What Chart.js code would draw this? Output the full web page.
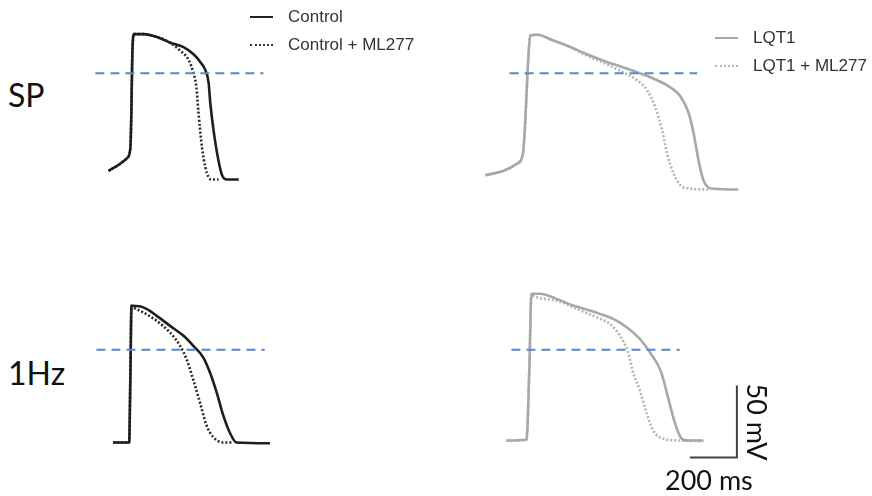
<!DOCTYPE html>
<html>
<head>
<meta charset="utf-8">
<script src="https://cdn.jsdelivr.net/npm/chart.js@4.4.1/dist/chart.umd.min.js"></script>
<style>
  body { margin: 0; width: 872px; height: 496px; background: #fff; position: relative; overflow: hidden; }
  .panel { position: absolute; }
  .lbl { position: absolute; font-family: Lato, "Open Sans", sans-serif; color: #111; line-height: 1; white-space: nowrap; }
  .leg { position: absolute; height: 20px; display: flex; align-items: center; font-family: "Liberation Sans", Arial, sans-serif; font-size: 17px; color: #333; white-space: nowrap; }
  .leg span.ln { display: inline-block; width: 23px; margin-right: 15px; }
</style>
</head>
<body>
<div class="panel" style="left:88.7px; top:13.5px;"><canvas id="spCtrl" width="264" height="190"></canvas></div>
<div class="panel" style="left:482.7px; top:23.5px;"><canvas id="spLqt" width="264" height="190"></canvas></div>
<div class="panel" style="left:88.2px; top:276.5px;"><canvas id="hzCtrl" width="264" height="190"></canvas></div>
<div class="panel" style="left:487.2px; top:274.5px;"><canvas id="hzLqt" width="264" height="190"></canvas></div>

<div class="lbl" style="left:8px; top:79px; font-size:32px;">SP</div>
<div class="lbl" style="left:8px; top:357px; font-size:32px;">1Hz</div>
<div class="lbl" style="left:665px; top:466px; font-size:27px;">200 ms</div>
<div class="lbl" style="left:757px; top:422px; font-size:27px; transform: translate(-50%,-50%) rotate(90deg);">50 mV</div>

<div class="leg" style="left:250px; top:7px;"><span class="ln" style="border-top:2.5px solid #222;"></span>Control</div>
<div class="leg" style="left:250px; top:35px;"><span class="ln" style="border-top:2.5px dotted #333;"></span>Control + ML277</div>
<div class="leg" style="left:715px; top:28px;"><span class="ln" style="border-top:2.5px solid #a8a8a8;"></span>LQT1</div>
<div class="leg" style="left:715px; top:56px;"><span class="ln" style="border-top:2.5px dotted #b4b4b4;"></span>LQT1 + ML277</div>

<script>
// action potentials, [time ms, voltage mV]
const spControl = [[-97,-79],[-47,-74],[-17,-70],[-4,-63],[0,-40],[4,0],[10,16],[52,16],[109,14],[166,10],[222,7],[265,2],[294,-3.5],[315,-9],[329,-18],[336,-32],[350,-51],[371,-72],[386,-82],[407,-85],[457,-85]];
const spControlMl = [[-97,-79],[-47,-74],[-17,-70],[-4,-63],[0,-40],[4,0],[10,16],[52,16],[109,14],[166,10],[208,4.5],[244,-2],[265,-11.5],[277,-21],[286,-39],[301,-63],[315,-76.5],[329,-83.5],[343,-85],[371,-85]];
const spLqt1 = [[-170,-75],[-92,-72],[-35,-67],[-10,-60],[0,-37],[10,-2],[21,22],[50,22.5],[120,18.5],[191,14],[262,9],[333,4.5],[404,0.5],[475,-3.5],[546,-8],[617,-14],[659,-20],[695,-32],[716,-46],[737,-65],[759,-79],[801,-84.5],[906,-85]];
const spLqt1Ml = [[-170,-75],[-92,-72],[-35,-67],[-10,-60],[0,-37],[10,-2],[21,22],[50,22.5],[120,18.5],[191,14],[262,8],[333,3],[404,-2.5],[475,-9],[518,-16],[553,-28],[582,-44],[603,-60],[631,-74],[673,-83.5],[779,-85]];
const hzControl = [[-73,-85],[-5,-85],[0,-42],[5,10],[40,9.7],[69,7.8],[111,3.2],[168,-3.8],[225,-10.7],[267,-17.6],[310,-25.8],[338,-36],[367,-50],[395,-66],[423,-78],[452,-85],[594,-85.5]];
const hzControlMl = [[-73,-85],[-5,-85],[0,-42],[5,10],[12,9],[54,5.5],[111,-0.3],[168,-8.4],[211,-17.6],[239,-27],[267,-41],[296,-57],[324,-73],[352,-81],[395,-85],[437,-85]];
const hzLqt1 = [[-97,-85],[-12,-84.5],[0,-36],[9,17],[45,17],[116,13.4],[186,8.8],[257,5.3],[300,3],[357,-0.5],[414,-6.3],[470,-14.4],[513,-23.7],[560,-37],[590,-55],[618,-72],[645,-83],[672,-85],[740,-85]];
const hzLqt1Ml = [[-97,-85],[-12,-84.5],[0,-36],[9,17],[16,15.7],[116,12.2],[201,6.5],[286,0.6],[342,-4],[385,-12],[420,-23.7],[442,-38],[470,-50],[499,-66],[527,-78],[569,-83.8],[640,-85],[740,-85.5]];

// blue reference levels: [mV, from ms, to ms]
const spControlLevel = [-11.2, -153, 562];
const spLqt1Level = [-4.2, -67, 731];
const hzControlLevel = [-20.6, -144, 572];
const hzLqt1Level = [-22, -76, 640];

// scale bar
const scaleMs = 200;
const scaleMv = 50;
const scaleCorner = [883, -96.8];

const toXY = arr => arr.map(p => ({ x: p[0], y: p[1] }));

const trace = (pts, color, dotted) => ({
  data: toXY(pts),
  borderColor: color,
  borderWidth: 2.6,
  borderDash: dotted ? [2, 2] : [],
  cubicInterpolationMode: 'monotone',
  pointRadius: 0,
  clip: false
});

const level = (lv) => ({
  data: [{ x: lv[1], y: lv[0] }, { x: lv[2], y: lv[0] }],
  borderColor: '#5589cf',
  borderWidth: 2,
  borderDash: [9, 6],
  pointRadius: 0,
  clip: false
});

const drawPanel = (id, datasets) => {
  new Chart(id, {
    type: 'line',
    data: { datasets: datasets },
    options: {
      responsive: false,
      animation: false,
      devicePixelRatio: 1,
      layout: { padding: 0 },
      plugins: { legend: { display: false }, tooltip: { enabled: false } },
      scales: {
        x: { type: 'linear', min: -180, max: 943, display: false },
        y: { type: 'linear', min: -102, max: 30, display: false }
      }
    }
  });
};

drawPanel('spCtrl', [level(spControlLevel), trace(spControl, '#1e1e1e', false), trace(spControlMl, '#2a2a2a', true)]);
drawPanel('spLqt', [level(spLqt1Level), trace(spLqt1, '#a8a8a8', false), trace(spLqt1Ml, '#b4b4b4', true)]);
drawPanel('hzCtrl', [level(hzControlLevel), trace(hzControl, '#1e1e1e', false), trace(hzControlMl, '#2a2a2a', true)]);
drawPanel('hzLqt', [
  level(hzLqt1Level),
  trace(hzLqt1, '#a8a8a8', false),
  trace(hzLqt1Ml, '#b4b4b4', true),
  {
    data: [
      { x: scaleCorner[0] - scaleMs, y: scaleCorner[1] },
      { x: scaleCorner[0], y: scaleCorner[1] },
      { x: scaleCorner[0], y: scaleCorner[1] + scaleMv }
    ],
    borderColor: '#444',
    borderWidth: 2,
    pointRadius: 0,
    clip: false
  }
]);
</script>
</body>
</html>
